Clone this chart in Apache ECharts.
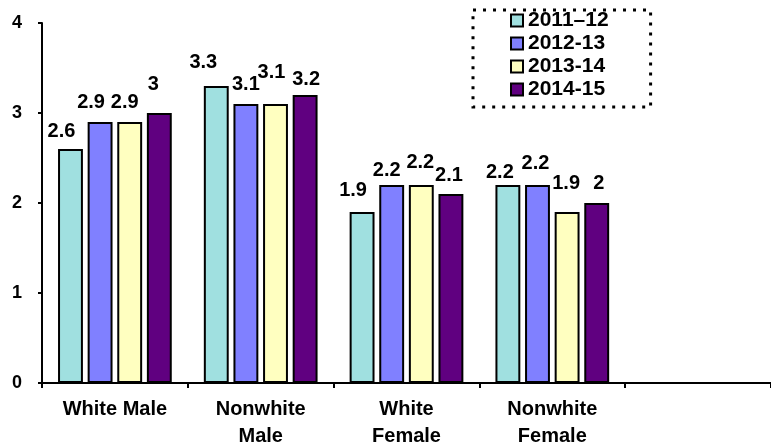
<!DOCTYPE html>
<html>
<head>
<meta charset="utf-8">
<script src="https://cdn.jsdelivr.net/npm/echarts@6/dist/echarts.min.js"></script>
<style>html,body{margin:0;padding:0;background:#fff;}#c{width:771px;height:442px;}</style>
</head>
<body>
<div id="c"></div>
<script>
var categories = ['White Male', 'Nonwhite\nMale', 'White\nFemale', 'Nonwhite\nFemale', ''];
var seriesNames = ['2011\u201312', '2012-13', '2013-14', '2014-15'];
var v2011 = [2.6, 3.3, 1.9, 2.2, null];
var v2012 = [2.9, 3.1, 2.2, 2.2, null];
var v2013 = [2.9, 3.1, 2.2, 1.9, null];
var v2014 = [3.0, 3.2, 2.1, 2.0, null];
var yTicks = [0, 1, 2, 3, 4];

var colors = ['#A0E0E0', '#8080FF', '#FFFFC0', '#600080'];
/* label nudges (style only), per series per category: [dx, dy] */
var labelShift = [
  [[-9, 0], [-13, -6], [-9, -4], [-8, 5]],
  [[-9, -2], [0, -2], [-5, 3], [-2, -4]],
  [[-5, -2], [-4, -14], [-1, -5], [-1, -11]],
  [[-6, -11], [1, 2], [-2, -1], [2, -2]]
];
var allValues = [v2011, v2012, v2013, v2014];
var FONT = '"Liberation Sans", Arial, sans-serif';

var series = allValues.map(function (vals, i) {
  return {
    name: seriesNames[i],
    type: 'bar',
    data: vals.map(function (v, j) {
      if (v === null) return null;
      return { value: v, label: { offset: labelShift[i][j] } };
    }),
    barGap: '19%',
    barCategoryGap: '22%',
    itemStyle: { color: colors[i], borderColor: '#000', borderWidth: 2 },
    label: {
      show: true, position: 'top', distance: 8,
      color: '#000', fontFamily: FONT, fontWeight: 'bold', fontSize: 20
    }
  };
});

var chart = echarts.init(document.getElementById('c'));
chart.setOption({
  animation: false,
  backgroundColor: '#fff',
  grid: { left: 42, right: 0, top: 23, bottom: 59, outerBoundsMode: 'none', containLabel: false },
  legend: {
    orient: 'vertical',
    left: 473, top: 10,
    padding: [0, 42, 7, 37],
    itemGap: 2,
    itemWidth: 12, itemHeight: 12,
    icon: 'rect',
    borderColor: '#000', borderWidth: 3, borderType: [3, 7],
    textStyle: { color: '#000', fontFamily: FONT, fontWeight: 'bold', fontSize: 21 },
    itemStyle: { borderColor: '#000', borderWidth: 2 },
    data: seriesNames
  },
  xAxis: {
    type: 'category',
    data: categories,
    axisLine: { lineStyle: { color: '#000', width: 2 } },
    axisTick: { show: true, length: 5, lineStyle: { color: '#000', width: 2 } },
    axisLabel: {
      color: '#000', fontFamily: FONT, fontWeight: 'bold', fontSize: 20,
      lineHeight: 27, margin: 13, interval: 0
    },
    splitLine: { show: false }
  },
  yAxis: {
    type: 'value',
    min: yTicks[0], max: yTicks[yTicks.length - 1], interval: 1,
    axisLine: { show: true, lineStyle: { color: '#000', width: 2 } },
    axisTick: { show: true, length: 4, lineStyle: { color: '#000', width: 2 } },
    axisLabel: { color: '#000', fontFamily: FONT, fontWeight: 'bold', fontSize: 18, margin: 20 },
    splitLine: { show: false }
  },
  series: series
});
</script>
</body>
</html>
